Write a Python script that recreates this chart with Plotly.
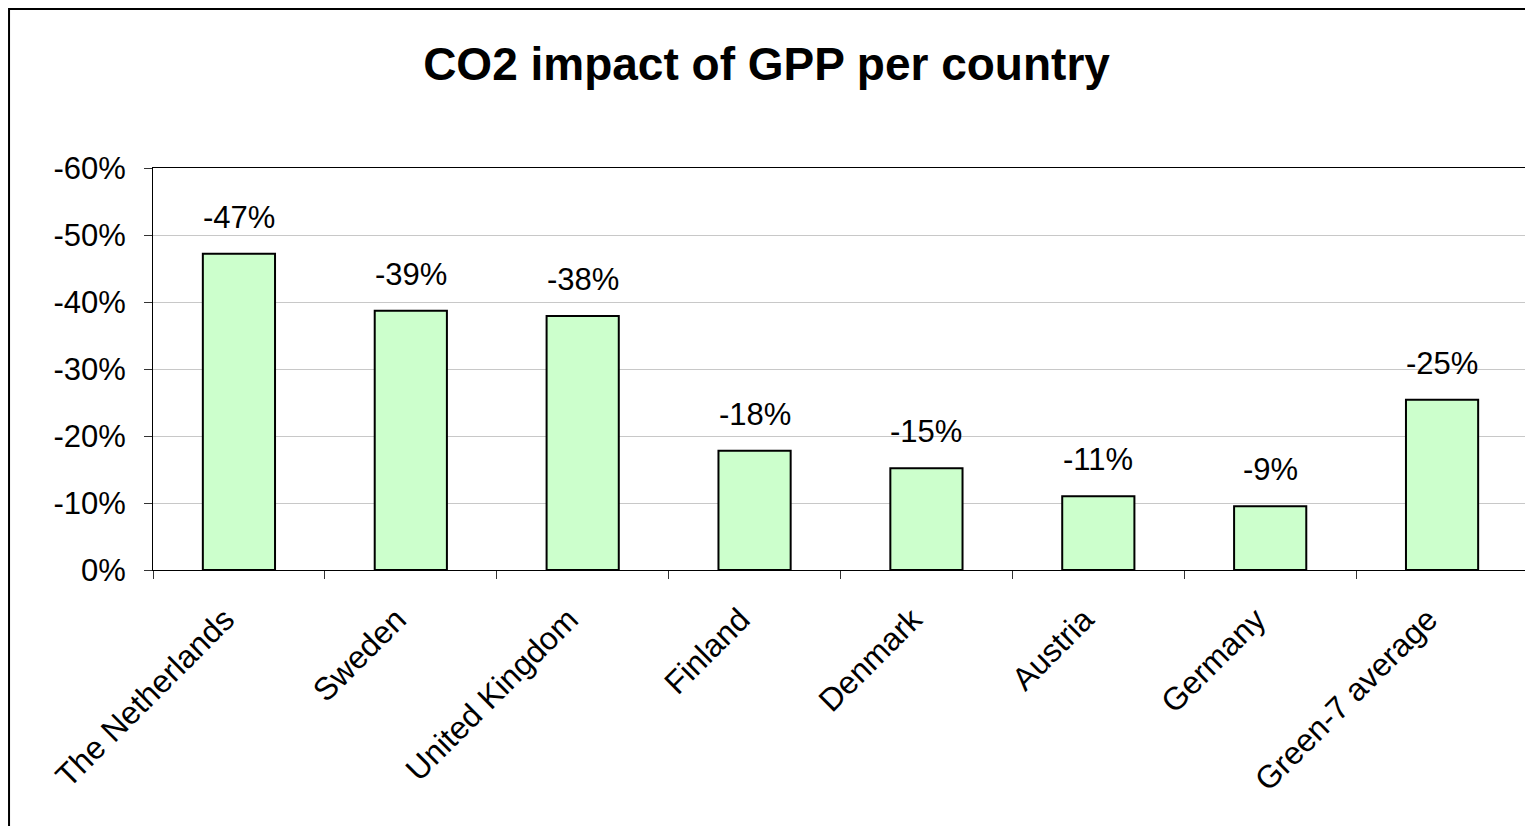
import plotly.graph_objects as go

categories = ["The Netherlands", "Sweden", "United Kingdom", "Finland",
              "Denmark", "Austria", "Germany", "Green-7 average"]
values = [-0.472, -0.387, -0.379, -0.178, -0.152, -0.110, -0.095, -0.254]
value_labels = ["-47%", "-39%", "-38%", "-18%", "-15%", "-11%", "-9%", "-25%"]
y_tickvals = [0, -0.1, -0.2, -0.3, -0.4, -0.5, -0.6]
y_ticktext = ["0%", "-10%", "-20%", "-30%", "-40%", "-50%", "-60%"]
title_text = "CO2 impact of GPP per country"

FONT = "Liberation Sans, Arial, sans-serif"

fig = go.Figure()
fig.add_trace(go.Bar(
    x=categories, y=values, width=0.42,
    marker=dict(color="#CCFFCC", line=dict(color="black", width=2)),
    hoverinfo="skip", showlegend=False,
))

for c, v, t in zip(categories, values, value_labels):
    fig.add_annotation(x=c, y=v, text=t, showarrow=False, yanchor="bottom",
                       yshift=17, font=dict(family=FONT, size=31, color="black"))

# outer chart border (left and top edges visible, right/bottom off-canvas)
fig.add_shape(type="rect", xref="paper", yref="paper",
              x0=-0.1047, x1=1.02, y0=-0.7, y1=1.3955,
              line=dict(color="black", width=2), layer="below")

fig.update_layout(
    width=1525, height=818,
    margin=dict(l=145, r=5, t=160, b=256),
    paper_bgcolor="white", plot_bgcolor="white",
    font=dict(family=FONT, size=31, color="black"),
    title=dict(text="<b>" + title_text + "</b>", x=758.5 / 1525, xanchor="center",
               y=1 - 56 / 818, yanchor="middle", yref="container",
               font=dict(family=FONT, size=46, color="black")),
    showlegend=False,
)
fig.update_xaxes(
    type="category", showline=True, linecolor="black", linewidth=1, mirror=True,
    ticks="outside", tickson="boundaries", ticklen=8, tickcolor="#333",
    tickangle=-45, showgrid=False,
    ticklabelstandoff=17, ticklabelshift=-14,
    tickfont=dict(family=FONT, size=32, color="black"),
)
fig.update_yaxes(
    range=[0, -0.6], tickvals=y_tickvals, ticktext=y_ticktext,
    showline=True, linecolor="black", linewidth=1, mirror=True,
    ticks="outside", ticklen=8, tickcolor="#333",
    showgrid=True, gridcolor="#C8C8C8", gridwidth=1, zeroline=False,
    ticklabelstandoff=12,
    tickfont=dict(family=FONT, size=31, color="black"),
)

fig.write_html("out.html")
